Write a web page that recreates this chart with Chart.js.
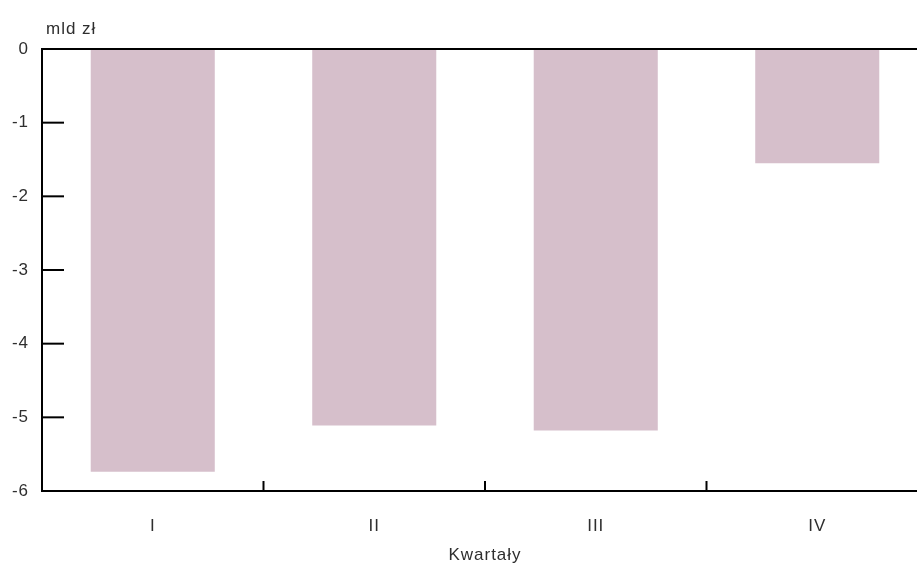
<!DOCTYPE html>
<html>
<head>
<meta charset="utf-8">
<script src="https://cdn.jsdelivr.net/npm/chart.js@4/dist/chart.umd.min.js"></script>
<style>
  html, body { margin: 0; padding: 0; background: #fff; overflow: hidden; }
  #wrap { width: 930px; height: 566px; }
</style>
</head>
<body>
<div id="wrap"><canvas id="chart"></canvas></div>
<script>
// Dane: saldo kwartalne, mld zł
const categories = ["I", "II", "III", "IV"];
const values = [-5.74, -5.11, -5.18, -1.55];
const yTicks = [0, -1, -2, -3, -4, -5, -6];
const unitLabel = "mld zł";
const xTitle = "Kwartały";

const FONT = "'Liberation Sans', Arial, sans-serif";
const TEXT = "#2e2e2e";
const font = { family: FONT, size: 17 };

// slightly spaced lettering like the original
const spacing = {
  id: "spacing",
  beforeDraw(chart) { chart.ctx.letterSpacing = "1px"; },
};

// ticks inside the plot + zero line + unit label
const axisMarks = {
  id: "axisMarks",
  afterDraw(chart) {
    const { ctx, chartArea, scales } = chart;
    const x = scales.x, y = scales.y;
    ctx.save();
    ctx.strokeStyle = "#000";
    ctx.lineWidth = 2;

    // zero line across the top
    const y0 = y.getPixelForValue(0);
    ctx.beginPath();
    ctx.moveTo(chartArea.left, y0);
    ctx.lineTo(chartArea.right, y0);
    ctx.stroke();

    // y ticks, pointing right
    yTicks.forEach((v) => {
      if (v === 0 || v === -6) return;
      const py = y.getPixelForValue(v);
      ctx.beginPath();
      ctx.moveTo(chartArea.left, py);
      ctx.lineTo(chartArea.left + 22, py);
      ctx.stroke();
    });

    // x ticks between categories, pointing up
    for (let i = 1; i < categories.length; i++) {
      const px = (x.getPixelForValue(i - 1) + x.getPixelForValue(i)) / 2;
      ctx.beginPath();
      ctx.moveTo(px, chartArea.bottom);
      ctx.lineTo(px, chartArea.bottom - 10);
      ctx.stroke();
    }

    ctx.fillStyle = TEXT;
    ctx.font = "17px " + FONT;
    ctx.textAlign = "left";
    ctx.textBaseline = "middle";
    ctx.fillText(unitLabel, chartArea.left + 4, chartArea.top - 20);
    ctx.restore();
  },
};

new Chart(document.getElementById("chart"), {
  type: "bar",
  data: {
    labels: categories,
    datasets: [
      {
        data: values,
        backgroundColor: "#d6bfcb",
        borderWidth: 0,
        categoryPercentage: 1,
        barPercentage: 0.56,
      },
    ],
  },
  options: {
    responsive: true,
    maintainAspectRatio: false,
    animation: false,
    layout: { padding: { top: 49, left: 0, right: 2, bottom: 0 } },
    plugins: { legend: { display: false }, tooltip: { enabled: false } },
    scales: {
      x: {
        grid: { display: false },
        border: { display: true, color: "#000", width: 2 },
        ticks: { color: TEXT, font, padding: 17 },
        title: {
          display: true,
          text: xTitle,
          color: TEXT,
          font,
          padding: { top: 4, bottom: 0 },
        },
        afterFit(scale) { scale.height = 75; },
      },
      y: {
        min: -6,
        max: 0,
        afterBuildTicks(scale) { scale.ticks = yTicks.map((v) => ({ value: v })); },
        grid: { display: false, drawTicks: false },
        border: { display: true, color: "#000", width: 2 },
        ticks: { color: TEXT, font, padding: 13 },
        afterFit(scale) { scale.width = 42; },
      },
    },
  },
  plugins: [spacing, axisMarks],
});
</script>
</body>
</html>
